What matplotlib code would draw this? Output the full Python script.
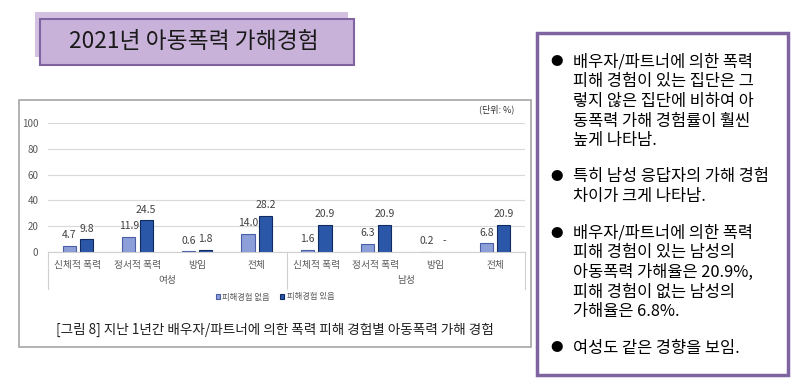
import numpy as np
import matplotlib
matplotlib.use('agg')
import matplotlib.pyplot as plt
from matplotlib.patches import Rectangle

plt.rcParams['font.family'] = ['Noto Sans CJK KR', 'DejaVu Sans']

# data
categories = ['신체적 폭력', '정서적 폭력', '방임', '전체',
              '신체적 폭력', '정서적 폭력', '방임', '전체']
groups = ['여성', '남성']
no_victim = [4.7, 11.9, 0.6, 14.0, 1.6, 6.3, 0.2, 6.8]
victim = [9.8, 24.5, 1.8, 28.2, 20.9, 20.9, np.nan, 20.9]
series_names = ['피해경험 없음', '피해경험 있음']
yticks = [0, 20, 40, 60, 80, 100]

title = '2021년 아동폭력 가해경험'
caption = '[그림 8] 지난 1년간 배우자/파트너에 의한 폭력 피해 경험별 아동폭력 가해 경험'
bullets = [
    ['배우자/파트너에 의한 폭력', '피해 경험이 있는 집단은 그', '렇지 않은 집단에 비하여 아',
     '동폭력 가해 경험률이 훨씬', '높게 나타남.'],
    ['특히 남성 응답자의 가해 경험', '차이가 크게 나타남.'],
    ['배우자/파트너에 의한 폭력', '피해 경험이 있는 남성의', '아동폭력 가해율은 20.9%,',
     '피해 경험이 없는 남성의', '가해율은 6.8%.'],
    ['여성도 같은 경향을 보임.'],
]

W, H = 800, 392
LIGHT, LIGHT_EDGE = '#8c9fd8', '#4a5ea8'
DARK, DARK_EDGE = '#2b57a8', '#102b60'
PURPLE = '#8064a2'


def px(x, y):
    return x / W, 1 - y / H


def add_rect(fig, x, y, w, h, **kw):
    fig.add_artist(Rectangle((x / W, 1 - (y + h) / H), w / W, h / H,
                             transform=fig.transFigure, **kw))


fig = plt.figure(figsize=(8, 3.92), dpi=100)

# title box
add_rect(fig, 35, 12, 313, 45, facecolor='#d3bfe0', edgecolor='none')
add_rect(fig, 40, 19, 314, 46, facecolor='#c9b2da', edgecolor=PURPLE, lw=1.5)
fig.text(*px(194, 42), title, fontsize=16.4, ha='center', va='center', color='#1a1a1a')

# chart frame (behind the axes)
add_rect(fig, 19, 100, 512, 247, facecolor='white', edgecolor='#a6a6a6', lw=1.2,
         zorder=-5)

# bar chart
ax = fig.add_axes([48 / W, 1 - 252 / H, 477 / W, 129 / H])
ax.patch.set_alpha(0)
x = np.arange(len(categories))
bw = 0.22
off = 0.145
b1 = ax.bar(x - off, no_victim, bw, color=LIGHT, edgecolor=LIGHT_EDGE, lw=0.8,
            label=series_names[0])
b2 = ax.bar(x + off, victim, bw, color=DARK, edgecolor=DARK_EDGE, lw=0.8,
            label=series_names[1])
for xi, v in zip(x, no_victim):
    ax.annotate(f'{v:.1f}', (xi - off, v), xytext=(0, 4), textcoords='offset points',
                ha='center', va='bottom', fontsize=7.5, color='#404040')
for xi, v in zip(x, victim):
    lab = '-' if np.isnan(v) else f'{v:.1f}'
    yv = 0 if np.isnan(v) else v
    ax.annotate(lab, (xi + off, yv), xytext=(0, 4), textcoords='offset points',
                ha='center', va='bottom', fontsize=7.5, color='#404040')

ax.set_xlim(-0.5, len(categories) - 0.5)
ax.set_ylim(0, 100)
ax.set_yticks(yticks)
ax.tick_params(axis='y', length=0, labelsize=7, labelcolor='#595959', pad=7)
ax.yaxis.grid(True, color='#d9d9d9', lw=0.8)
ax.set_axisbelow(True)
ax.set_xticks([])
for s in ['top', 'right', 'left']:
    ax.spines[s].set_visible(False)
ax.spines['bottom'].set_color('#d0d0d0')

# category / group labels
for xi, c in zip(x, categories):
    ax.text(xi, -0.1, c, transform=ax.get_xaxis_transform(), ha='center', va='center',
            fontsize=7, color='#595959')
ng = len(categories) // len(groups)
for gi, g in enumerate(groups):
    ax.text(gi * ng + (ng - 1) / 2, -0.22, g, transform=ax.get_xaxis_transform(),
            ha='center', va='center', fontsize=7, color='#595959')
for xb in [-0.5, ng - 0.5, len(categories) - 0.5]:
    ax.plot([xb, xb], [0, -0.29], transform=ax.get_xaxis_transform(), color='#d0d0d0',
            lw=0.8, clip_on=False)

fig.text(*px(497, 109), '(단위: %)', fontsize=6.5, fontweight='medium',
         ha='center', va='center', color='#303030')

# legend
fig.legend(handles=[b1, b2], loc='center', bbox_to_anchor=px(275, 297), ncol=2,
           frameon=False, fontsize=6, handlelength=0.5, handleheight=0.5,
           handletextpad=0.3, columnspacing=1.2, labelcolor='#595959')

fig.text(*px(275, 330), caption, fontsize=9.8, fontweight='medium',
         ha='center', va='center', color='#202020')

# right text box
add_rect(fig, 537, 33, 251, 342, facecolor='white', edgecolor=PURPLE, lw=2.5, zorder=-5)
starts = [62, 177, 233, 348]
for y0, lines in zip(starts, bullets):
    fig.text(*px(557, y0), '●', fontsize=9, ha='center', va='center', color='black')
    for i, line in enumerate(lines):
        fig.text(*px(573, y0 + i * 19.7), line, fontsize=11.8, ha='left', va='center',
                 color='black')

fig.savefig('out.png', dpi=100)
